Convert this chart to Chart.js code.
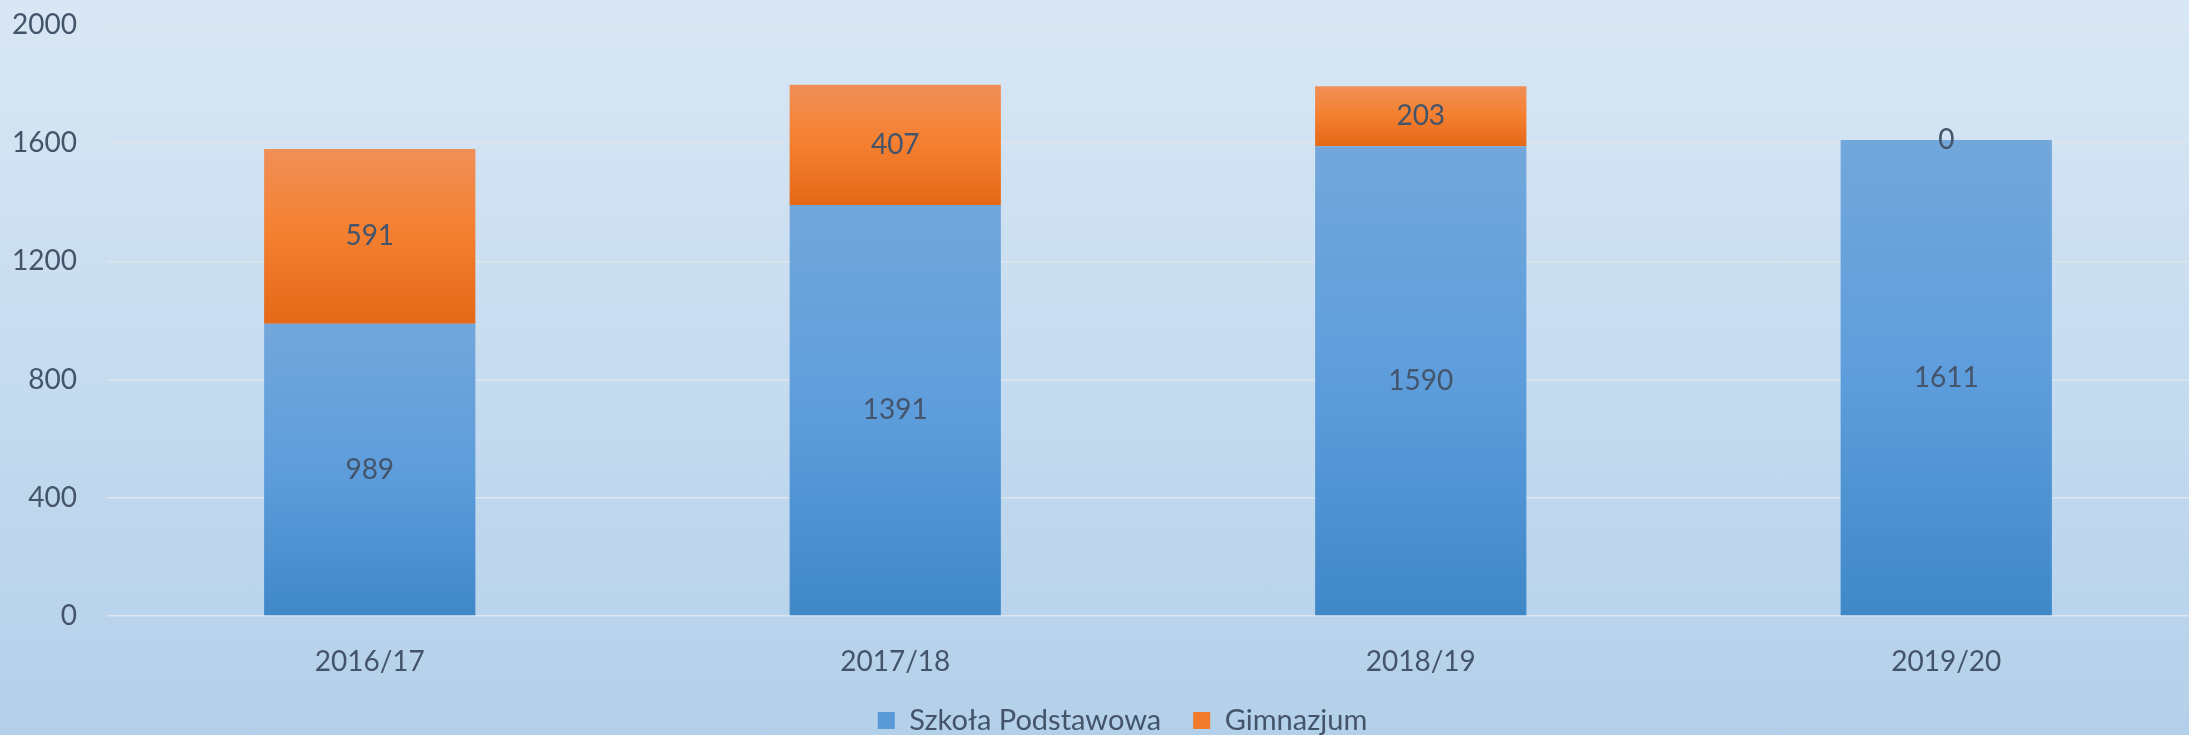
<!DOCTYPE html>
<html>
<head>
<meta charset="utf-8">
<script src="https://cdn.jsdelivr.net/npm/chart.js@4"></script>
<style>
  html, body { margin: 0; padding: 0; overflow: hidden; }
  body {
    width: 2189px; height: 735px; position: relative;
    background: linear-gradient(to bottom, #d9e7f4 0%, #c8ddf0 45%, #b3d0ea 100%);
  }
  /* wykres szerszy niż okno: obszar wykresu wychodzi poza prawą krawędź jak w oryginale */
  #wrap { position: absolute; left: 0; top: 0; width: 2209px; height: 735px; }
</style>
</head>
<body>
<div id="wrap"><canvas id="c"></canvas></div>
<script>
// dane
const labels = ['2016/17', '2017/18', '2018/19', '2019/20'];
const szkolaPodstawowa = [989, 1391, 1590, 1611];
const gimnazjum = [591, 407, 203, 0];
const yTicks = [0, 400, 800, 1200, 1600, 2000];

const txt = '#44546a';
const font = { family: 'Lato', size: 28 };

// gradient liczony osobno dla każdego segmentu słupka
function segGradient(stops, fallback) {
  return (c) => {
    const chart = c.chart;
    if (!chart.chartArea || c.dataIndex == null) return fallback;
    const ys = chart.scales.y;
    let lo = 0;
    for (let i = 0; i < c.datasetIndex; i++) lo += chart.data.datasets[i].data[c.dataIndex];
    const hi = lo + chart.data.datasets[c.datasetIndex].data[c.dataIndex];
    const top = ys.getPixelForValue(hi), bot = ys.getPixelForValue(lo);
    if (!(bot - top > 0)) return fallback;
    const g = chart.ctx.createLinearGradient(0, top, 0, bot);
    stops.forEach(([o, col]) => g.addColorStop(o, col));
    return g;
  };
}

const blueStops = [[0, '#72a7db'], [0.5, '#5e9ddc'], [1, '#3f88c8']];
const orangeStops = [[0, '#f08f57'], [0.45, '#f58132'], [1, '#e46817']];

// etykiety wartości na środku segmentów
const valueLabels = {
  id: 'valueLabels',
  afterDatasetsDraw(chart) {
    const ctx = chart.ctx;
    ctx.save();
    ctx.font = `${font.size}px ${font.family}`;
    ctx.fillStyle = txt;
    ctx.textAlign = 'center';
    ctx.textBaseline = 'middle';
    chart.data.datasets.forEach((ds, di) => {
      chart.getDatasetMeta(di).data.forEach((el, i) => {
        ctx.fillText(String(ds.data[i]), el.x, (el.y + el.base) / 2);
      });
    });
    ctx.restore();
  },
};

// legenda w oryginale jest trochę przesunięta w prawo
const legendShift = {
  id: 'legendShift',
  afterLayout(chart) {
    if (chart.legend) { chart.legend.left += 18; chart.legend.right += 18; }
  },
};

new Chart(document.getElementById('c'), {
  type: 'bar',
  data: {
    labels,
    datasets: [
      { label: 'Szkoła Podstawowa', data: szkolaPodstawowa, backgroundColor: segGradient(blueStops, '#5a9ad6') },
      { label: 'Gimnazjum', data: gimnazjum, backgroundColor: segGradient(orangeStops, '#f07b2b') },
    ],
  },
  options: {
    responsive: true,
    maintainAspectRatio: false,
    animation: false,
    categoryPercentage: 1,
    barPercentage: 0.402,
    layout: { padding: { top: 25, right: 0, bottom: -10, left: 0 } },
    plugins: {
      tooltip: { enabled: false },
      legend: {
        position: 'bottom',
        labels: {
          font: { family: 'Lato', size: 29 },
          color: txt,
          boxWidth: 17,
          boxHeight: 17,
          padding: 32,
          generateLabels: (chart) => chart.data.datasets.map((ds, i) => ({
            text: ds.label,
            fillStyle: i === 0 ? '#5a9ad6' : '#f07b2b',
            strokeStyle: 'rgba(0,0,0,0)',
            lineWidth: 0,
            fontColor: txt,
            datasetIndex: i,
          })),
        },
      },
    },
    scales: {
      x: {
        stacked: true,
        grid: { display: false },
        border: { display: false },
        ticks: { font, color: txt, padding: 21 },
        afterFit: (s) => { s.height = 58; },
      },
      y: {
        stacked: true,
        min: 0,
        max: 2000,
        afterBuildTicks: (s) => { s.ticks = yTicks.map((v) => ({ value: v })); },
        grid: { color: '#dde5ee', lineWidth: 1.5, drawTicks: false },
        border: { display: false },
        ticks: { font, color: txt, padding: 30, callback: (v) => String(v) },
        afterFit: (s) => { s.width = 107; s.paddingTop = 0; s.paddingBottom = 0; },
      },
    },
  },
  plugins: [valueLabels, legendShift],
});
</script>
</body>
</html>
